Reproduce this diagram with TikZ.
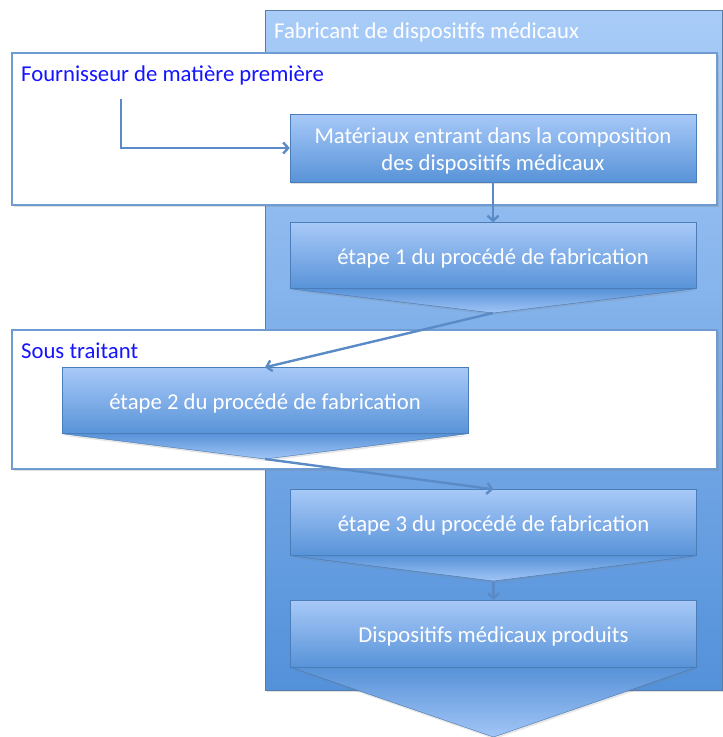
\documentclass[tikz,border=0pt]{standalone}
\usepackage{fontspec}
\setmainfont{Carlito}
\usetikzlibrary{arrows.meta,shadows,calc}

\definecolor{bgtop}{HTML}{A9CCF8}
\definecolor{bgbot}{HTML}{5391DA}
\definecolor{steptop}{HTML}{A8C9F8}
\definecolor{stepbot}{HTML}{5893D8}
\definecolor{chevtop}{HTML}{5792D8}
\definecolor{chevbot}{HTML}{A2C5F6}
\definecolor{edgeblue}{HTML}{6E9BD2}
\definecolor{flowblue}{HTML}{5A8BC6}
\definecolor{labelblue}{HTML}{1414FF}

% zones at the bottom, chevron tails between zones and step boxes
\pgfdeclarelayer{base}
\pgfdeclarelayer{chev}
\pgfsetlayers{base,chev,main}

\tikzset{
  zone/.style={draw=edgeblue, line width=1.2pt, fill=white,
    drop shadow={shadow xshift=1.5pt, shadow yshift=-2pt, opacity=0.25}},
  stepbox/.style={minimum width=406pt, minimum height=66pt, inner sep=0pt,
    draw=stepbot!85!black, line width=0.4pt, top color=steptop, bottom color=stepbot},
  steptext/.style={text=white, font=\fontsize{22.7}{27}\selectfont, align=center, inner sep=0pt},
  chevron/.style={top color=chevtop, bottom color=chevbot, draw=stepbot!80!black, line width=0.4pt,
    drop shadow={shadow xshift=1pt, shadow yshift=-2pt, opacity=0.2}},
  zonelabel/.style={anchor=west, text=labelblue, font=\fontsize{22.7}{26}\selectfont, inner sep=0pt},
  flow/.style={draw=flowblue, line width=2.4pt, -{Straight Barb[length=5pt,width=11pt]}}
}

\begin{document}
\begin{tikzpicture}[x=1pt,y=-1pt]
\useasboundingbox (0,0) rectangle (723,737);

\begin{pgfonlayer}{base}
  % manufacturer area
  \shade[top color=bgtop, bottom color=bgbot, drop shadow={shadow xshift=1.5pt, shadow yshift=-2pt, opacity=0.25}]
    (265,10) rectangle (722,690);
  \draw[edgeblue!80!black, line width=0.5pt] (265,10) rectangle (722,690);
  \node[anchor=west, text=white, font=\fontsize{22.7}{26}\selectfont, inner sep=0pt] (fab) at (274,32) {Fabricant de dispositifs médicaux};
  % raw material supplier
  \draw[zone] (12,53) rectangle (717,205);
  \node[zonelabel] (four) at (21,75) {Fournisseur de matière première};
  % subcontractor
  \draw[zone] (12,330) rectangle (717,469);
  \node[zonelabel] (sous) at (21,351) {Sous traitant};
\end{pgfonlayer}

% process boxes
\node[stepbox, minimum height=68pt, drop shadow={shadow xshift=1pt, shadow yshift=-2pt, opacity=0.25}] (mat) at (493,148) {};
\node[steptext] (matt) at ([yshift=-3pt]mat.center) {Matériaux entrant dans la composition\\des dispositifs médicaux};

\node[stepbox] (e1) at (493,255.5) {};
\node[steptext] (e1t) at ([yshift=-3pt]e1.center) {étape 1 du procédé de fabrication};
\coordinate (e1tip) at (493,313);

\node[stepbox] (e2) at (265,400.5) {};
\node[steptext] (e2t) at ([yshift=-3pt]e2.center) {étape 2 du procédé de fabrication};
\coordinate (e2tip) at (265,459);

\node[stepbox] (e3) at (493.5,522.5) {};
\node[steptext] (e3t) at ([yshift=-3pt]e3.center) {étape 3 du procédé de fabrication};
\coordinate (e3tip) at (493.5,581);

\node[stepbox, minimum height=67pt] (e4) at (493.5,633.5) {};
\node[steptext] (e4t) at ([yshift=-3pt]e4.center) {Dispositifs médicaux produits};
\coordinate (e4tip) at (493.5,737);

% chevron tails under the boxes
\begin{pgfonlayer}{chev}
  \foreach \s in {e1,e2,e3,e4}
    \shade[chevron] (\s.south west) -- (\s.south east) -- (\s tip) -- cycle;
\end{pgfonlayer}

% flow connectors
\coordinate (src) at (121,99);
\draw[flow] (src) |- (mat.west);
\draw[flow] (mat.south) -- (e1.north);
\draw[flow] (e1tip) -- (e2.north);
\draw[flow] (e2tip) -- (e3.north);
\draw[flow] (e3tip) -- (e4.north);
\end{tikzpicture}
\end{document}
